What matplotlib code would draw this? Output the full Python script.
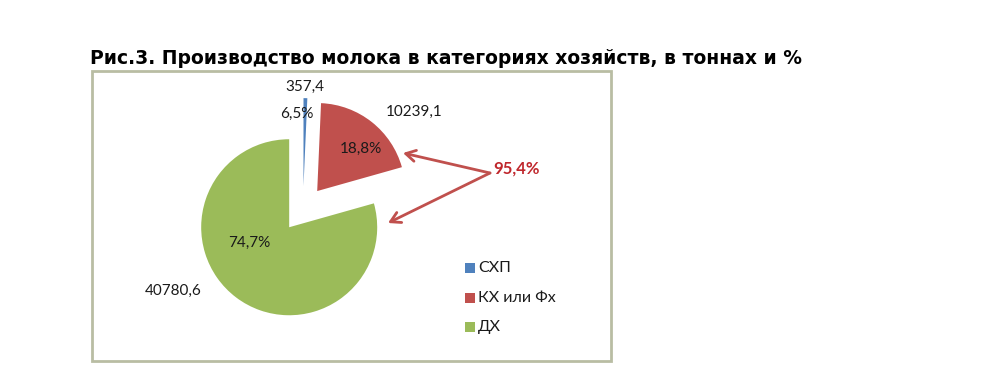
import matplotlib
matplotlib.use("Agg")
import matplotlib.pyplot as plt
from matplotlib.patches import Rectangle

categories = ["СХП", "КХ или Фх", "ДХ"]
values = [357.4, 10239.1, 40780.6]
value_labels = ["357,4", "10239,1", "40780,6"]
pct_labels = ["6,5%", "18,8%", "74,7%"]
total_label = "95,4%"
title = "Рис.3. Производство молока в категориях хозяйств, в тоннах и %"
colors = ["#4F81BD", "#C0504D", "#9BBB59"]

W, H = 1008, 380
fig = plt.figure(figsize=(W / 100, H / 100), dpi=100)
ax = fig.add_axes([0, 0, 1, 1])

def Y(y):
    return H - y

# pie (explode is in data units here: pixel-sized axes)
R = 88
ax.pie(values, colors=colors, startangle=90, counterclock=False,
       radius=R, center=(303, Y(209)), explode=[0.26 * R] * 3,
       wedgeprops=dict(linewidth=0), frame=True)
ax.set_xlim(0, W)
ax.set_ylim(0, H)
ax.set_aspect("equal")
ax.axis("off")

# frame
ax.add_patch(Rectangle((92, Y(361)), 611 - 92, 361 - 71, fill=False,
                       edgecolor="#B9BDA3", linewidth=2))

# title
ax.text(90, Y(58), title, fontsize=13.5, fontweight="bold",
        family=["DejaVu Sans"], ha="left", va="center", color="black")

lab_font = dict(family=["Lato", "DejaVu Sans"], fontsize=11, color="#1a1a1a",
                ha="center", va="center")
ax.text(305, Y(87), value_labels[0], **lab_font)
ax.text(297, Y(114), pct_labels[0], **lab_font)
ax.text(414, Y(112), value_labels[1], **lab_font)
ax.text(361, Y(149), pct_labels[1], **lab_font)
ax.text(249, Y(243), pct_labels[2], **lab_font)
ax.text(173, Y(291), value_labels[2], **lab_font)

ax.text(517, Y(169), total_label, family=["Lato", "DejaVu Sans"], fontsize=12,
        fontweight="bold", color="#C0282D", ha="center", va="center")

for end in [(403, 153), (388, 223)]:
    ax.annotate("", xy=(end[0], Y(end[1])), xytext=(490, Y(173)),
                arrowprops=dict(arrowstyle="->,head_length=0.7,head_width=0.4",
                                color="#C0504D", lw=2, shrinkA=0, shrinkB=0))

# legend
for i, (cat, col) in enumerate(zip(categories, colors)):
    yy = [268, 298, 327][i]
    ax.add_patch(Rectangle((465, Y(yy) - 5), 10, 10, facecolor=col, edgecolor="none"))
    ax.text(478, Y(yy), cat, family=["Lato", "DejaVu Sans"], fontsize=11.5,
            color="#1a1a1a", ha="left", va="center")

fig.savefig("out.png", dpi=100)
